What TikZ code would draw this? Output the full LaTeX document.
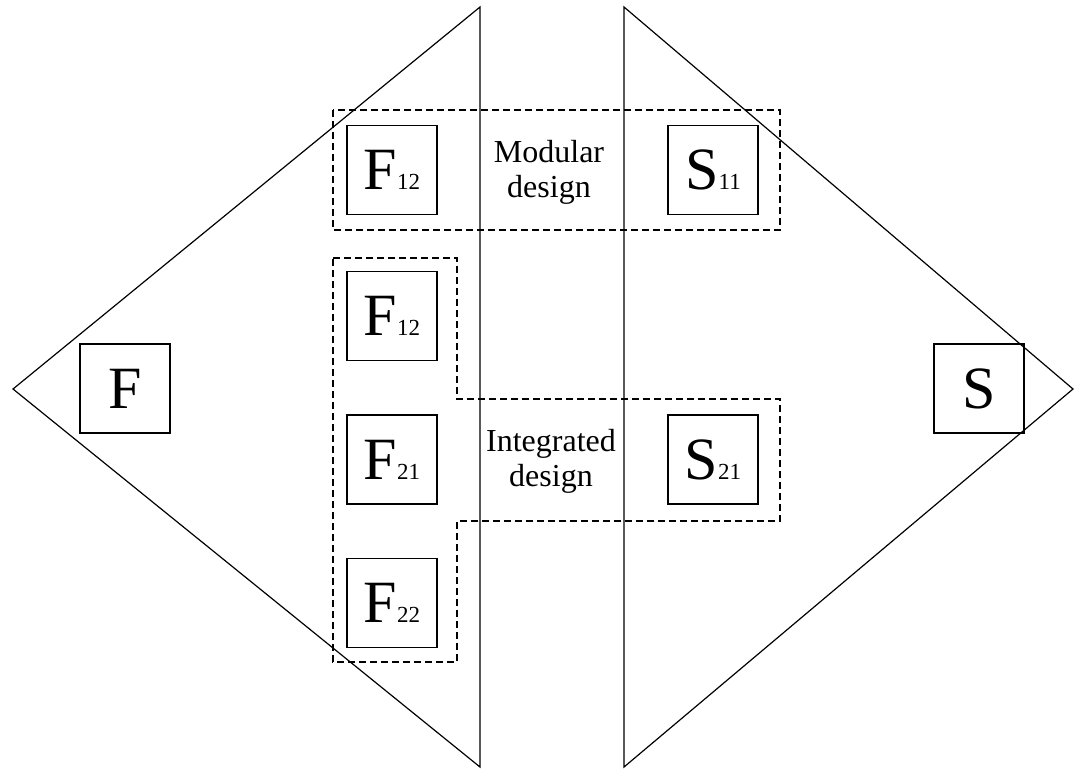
\documentclass[tikz,border=0pt]{standalone}
\usepackage{fontspec}
\setmainfont{Liberation Serif}
\begin{document}
\begin{tikzpicture}[x=1pt,y=-1pt,
  line width=1.3pt,
  box/.style={draw, minimum width=90pt, minimum height=89pt, inner sep=0pt, font=\fontsize{60}{60}\selectfont},
  grp/.style={draw, dash pattern=on 7pt off 4pt, line width=1.3pt},
  lbl/.style={align=center, inner sep=0pt, font=\fontsize{32}{35}\selectfont}]
\useasboundingbox (0,0) rectangle (1075,769);
\newcommand{\sbs}[1]{{\fontsize{23}{23}\selectfont #1}}
% triangles
\coordinate (lt) at (480,7);
\coordinate (lb) at (480,767);
\coordinate (ll) at (13,389);
\coordinate (rt) at (624,7);
\coordinate (rb) at (624,767);
\coordinate (rr) at (1073,389);
\draw[line width=1.2pt] (lt) -- (ll) -- (lb) -- cycle;
\draw[line width=1.2pt] (rt) -- (rr) -- (rb) -- cycle;
% dashed groups
\draw[grp] (333,110) rectangle (780,230);
\draw[grp] (333,258) -- (457,258) -- (457,399) -- (780,399) -- (780,521) -- (457,521) -- (457,662) -- (333,662) -- cycle;
% boxes
\node[box] (F) at (125,388.5) {F};
\node[box] (S) at (979,388.5) {S};
\node[box] (F12a) at (392,170) {F\sbs{12}};
\node[box] (S11) at (713,170) {S\sbs{11}};
\node[box] (F12b) at (392,316) {F\sbs{12}};
\node[box] (F21) at (392,459.5) {F\sbs{21}};
\node[box] (S21) at (713,459.5) {S\sbs{21}};
\node[box] (F22) at (392,603) {F\sbs{22}};
% labels
\node[lbl] (mod) at (549,172) {Modular\\design};
\node[lbl] (int) at (551,461) {Integrated\\design};
\end{tikzpicture}
\end{document}
